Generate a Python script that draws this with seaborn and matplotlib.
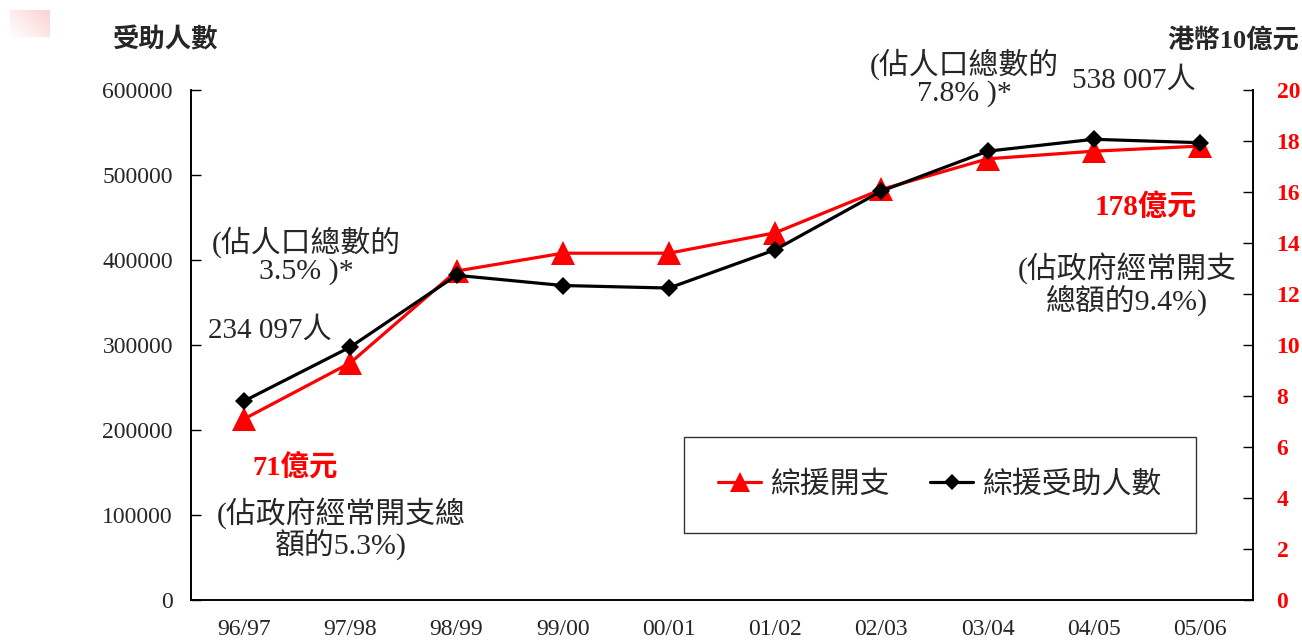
import numpy as np
import pandas as pd
import matplotlib
matplotlib.use("Agg")
import matplotlib.pyplot as plt
from matplotlib.lines import Line2D
from matplotlib.colors import LinearSegmentedColormap
import seaborn as sns

# ---- data ----
years = ["96/97", "97/98", "98/99", "99/00", "00/01", "01/02", "02/03", "03/04", "04/05", "05/06"]
recipients = [234097, 297600, 382000, 370000, 367000, 412000, 481000, 528000, 542000, 538007]
expenditure = [7.1, 9.3, 12.9, 13.6, 13.6, 14.4, 16.1, 17.3, 17.6, 17.8]   # HK$ billion
left_ticks = [0, 100000, 200000, 300000, 400000, 500000, 600000]
right_ticks = [0, 2, 4, 6, 8, 10, 12, 14, 16, 18, 20]
series_names = ["綜援開支", "綜援受助人數"]

sns.set_style("white")
FONT = ["Liberation Serif", "Noto Sans CJK TC", "DejaVu Sans"]
plt.rcParams["font.family"] = FONT

df = pd.DataFrame({"year": years, "recipients": recipients, "expenditure": expenditure})

W, H = 1302, 640
fig = plt.figure(figsize=(W / 100, H / 100), dpi=100)
ax = fig.add_axes([191 / W, 40 / H, (1253 - 191) / W, 510 / H])
ax2 = ax.twinx()

sns.lineplot(data=df, x="year", y="expenditure", ax=ax2, color="#ff0000",
             marker="^", markersize=17, markeredgewidth=0, linewidth=2.3,
             sort=False, errorbar=None)
sns.lineplot(data=df, x="year", y="recipients", ax=ax, color="black",
             marker="D", markersize=9.5, markeredgewidth=0, linewidth=2.3,
             sort=False, errorbar=None)

ax.set_zorder(ax2.get_zorder() + 1)
ax.patch.set_visible(False)

ax.set_xlim(-0.5, len(years) - 0.5)
ax.set_ylim(0, 600000)
ax2.set_ylim(0, 20)
ax.set_xlabel("")
ax.set_ylabel("")
ax2.set_ylabel("")

ax.set_xticks(range(len(years)))
ax.set_xticklabels(years, fontsize=17)
ax.set_xticks(np.arange(0.5, len(years) - 1, 1.0), minor=True)
ax.tick_params(axis="x", which="major", length=0, pad=14)
ax.tick_params(axis="x", which="minor", direction="in", length=8, width=1, color="black")

ax.set_yticks(left_ticks)
ax.set_yticklabels([str(v) for v in left_ticks], fontsize=17)
ax.tick_params(axis="y", direction="in", length=7, width=1, color="black", pad=13, left=True)

ax2.set_yticks(right_ticks)
ax2.set_yticklabels([str(v) for v in right_ticks], fontsize=17, fontweight="bold", color="#ff0000")
ax2.tick_params(axis="y", direction="in", length=7, width=1, color="black", pad=17, right=True)

for a in (ax, ax2):
    a.spines["top"].set_visible(False)
    for s in ("left", "right", "bottom"):
        a.spines[s].set_color("black")
        a.spines[s].set_linewidth(1.2)
    a.grid(False)

# legend
handles = [
    Line2D([], [], color="#ff0000", marker="^", markersize=15, markeredgewidth=0, linewidth=2.3),
    Line2D([], [], color="black", marker="D", markersize=8, markeredgewidth=0, linewidth=2.3),
]
leg = ax.legend(handles, series_names, loc="center", bbox_to_anchor=(0.705, 0.2255),
                ncol=2, frameon=True, fancybox=False, edgecolor="black",
                borderpad=1.15, handlelength=1.45, handletextpad=0.3, columnspacing=1.35,
                prop={"family": FONT, "size": 21.5})
leg.get_frame().set_linewidth(1.0)
leg.remove()
ax2.add_artist(leg)
leg.set_zorder(10)


def px(x, y):
    return x / W, 1 - y / H


fig.text(*px(166, 40), "受助人數", fontsize=19, fontweight="bold", ha="center", va="center")
fig.text(*px(1233, 40), "港幣10億元", fontsize=19, fontweight="bold", ha="center", va="center")

ANN = 21.5
fig.text(*px(306, 256), "(佔人口總數的\n3.5% )*", fontsize=ANN, ha="center", va="center", linespacing=1.0)
fig.text(*px(270, 330), "234 097人", fontsize=21, ha="center", va="center")
fig.text(*px(295, 467), "71億元", fontsize=20.5, fontweight="bold", color="#ff0000", ha="center", va="center")
fig.text(*px(341, 529), "(佔政府經常開支總\n額的5.3%)", fontsize=ANN, ha="center", va="center", linespacing=1.0)
fig.text(*px(964, 78), "(佔人口總數的\n7.8% )*", fontsize=ANN, ha="center", va="center", linespacing=1.0)
fig.text(*px(1134, 80), "538 007人", fontsize=21, ha="center", va="center")
fig.text(*px(1146, 207), "178億元", fontsize=21, fontweight="bold", color="#ff0000", ha="center", va="center")
fig.text(*px(1127, 284), "(佔政府經常開支\n總額的9.4%)", fontsize=ANN, ha="center", va="center", linespacing=1.0)

# small decorative gradient at top-left
deco = fig.add_axes([10 / W, 1 - 37 / H, 40 / W, 27 / H])
gx = np.linspace(0, 1, 64)[None, :]
gy = np.linspace(1, 0, 16)[:, None]
cmap = LinearSegmentedColormap.from_list("pk", ["#ffffff", "#fbd3d3"])
deco.imshow(0.6 * gx + 0.4 * gy, cmap=cmap, aspect="auto", vmin=0, vmax=1)
deco.axis("off")

fig.savefig("out.png", dpi=100)
